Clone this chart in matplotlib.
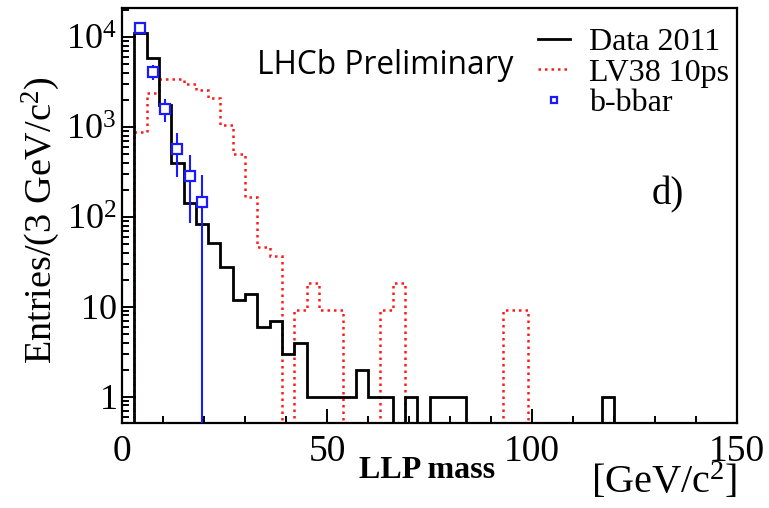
import numpy as np
import matplotlib
matplotlib.use("Agg")
import matplotlib.pyplot as plt
from matplotlib.lines import Line2D
from matplotlib.ticker import FixedLocator, FixedFormatter, LogLocator, MultipleLocator

plt.rcParams["font.family"] = ["Liberation Serif", "DejaVu Serif"]
plt.rcParams["mathtext.fontset"] = "custom"
plt.rcParams["mathtext.rm"] = "Liberation Serif"
plt.rcParams["mathtext.it"] = "Liberation Serif:italic"

# 3 GeV/c^2 bins from 0 to 150
bin_edges = np.arange(0, 153, 3)

# Data 2011 (entries per bin)
data_2011 = [0, 11000, 5800, 1750, 400, 143, 84, 51, 28, 12,
             14, 6, 7, 3, 4, 1, 1, 1, 1, 2,
             1, 1, 0, 1, 0, 1, 1, 1, 0, 0,
             0, 0, 0, 0, 0, 0, 0, 0, 0, 1,
             0, 0, 0, 0, 0, 0, 0, 0, 0, 0]

# LV38 10ps signal MC
lv38_10ps = [0, 880, 2400, 3420, 3420, 2980, 2590, 2080, 1050, 500,
             167, 46, 37, 0, 9.3, 18.6, 9.3, 9.3, 0, 0,
             0, 9.3, 18.6, 0, 0, 0, 0, 0, 0, 0,
             0, 9.3, 9.3, 0, 0, 0, 0, 0, 0, 0,
             0, 0, 0, 0, 0, 0, 0, 0, 0, 0]

# b-bbar MC points
bb_mass = [4.5, 7.5, 10.5, 13.5, 16.5, 19.5]
bb_entries = [12600, 4100, 1590, 570, 285, 147]
bb_err = [1350, 760, 450, 290, 200, 147]

W, H = 769, 508
fig = plt.figure(figsize=(W / 100, H / 100), dpi=100)
ax = fig.add_axes([122 / W, 1 - 423 / H, (737 - 122) / W, (423 - 8) / H])

floor = 1e-2
d = np.array(data_2011, dtype=float)
s = np.array(lv38_10ps, dtype=float)
ax.stairs(np.where(d > 0, d, floor), bin_edges, color="black", lw=2.0, zorder=3)
ax.stairs(np.where(s > 0, s, floor), bin_edges, color="#ff1a1a", lw=1.8,
          linestyle=(0, (1, 1.6)), zorder=2)

y = np.array(bb_entries, dtype=float)
e = np.array(bb_err, dtype=float)
lo = np.minimum(e, y - floor)
ax.errorbar(bb_mass, y, yerr=[lo, e], fmt="s", color="#1a1aff", ms=6.5,
            mfc="white", mec="#1a1aff", mew=1.6, elinewidth=1.5, capsize=0,
            zorder=4)

ax.set_yscale("log")
ax.set_xlim(0, 150)
ax.set_ylim(0.51, 2.1e4)

ax.xaxis.set_major_locator(MultipleLocator(50))
ax.xaxis.set_minor_locator(MultipleLocator(10))
ax.yaxis.set_major_locator(FixedLocator([1, 10, 100, 1000, 10000]))
ax.yaxis.set_major_formatter(FixedFormatter([
    r"$\mathregular{1}\;\,$",
    r"$\mathregular{10}\;\,$",
    r"$\mathregular{10^{2}}$",
    r"$\mathregular{10^{3}}$",
    r"$\mathregular{10^{4}}$",
]))
ax.yaxis.set_minor_locator(LogLocator(base=10, subs=np.arange(2, 10), numticks=20))
ax.yaxis.set_minor_formatter(plt.NullFormatter())

ax.tick_params(which="both", direction="in", top=False, right=False, width=1.4)
ax.tick_params(which="major", length=10)
ax.tick_params(which="minor", length=5)
ax.tick_params(axis="x", labelsize=27, pad=8)
ax.tick_params(axis="y", labelsize=26, pad=4)
for sp in ax.spines.values():
    sp.set_linewidth(1.6)

ax.set_ylabel("Entries/(3 GeV/c$^{2}$)", fontsize=27.5)
ax.yaxis.set_label_coords(-0.097, 0.49)

fig.text(427 / W, 1 - 470 / H, "LLP mass", fontsize=23, fontweight="bold",
         ha="center", va="center")
fig.text(737 / W, 1 - 482 / H, "[GeV/c$^{2}$]", fontsize=29,
         ha="right", va="center")

fig.text(385 / W, 1 - 66 / H, "LHCb Preliminary", fontsize=22.8,
         family=["Open Sans", "DejaVu Sans"], ha="center", va="center")
fig.text(668 / W, 1 - 195 / H, "d)", fontsize=28, ha="center", va="center")

handles = [
    Line2D([], [], color="black", lw=2.0),
    Line2D([], [], color="#ff1a1a", lw=1.8, linestyle=(0, (1, 1.6))),
    Line2D([], [], color="#1a1aff", marker="s", ms=5, mfc="white", mew=1.6, lw=0),
]
ax.legend(handles, ["Data 2011", "LV38 10ps", "b-bbar"],
          loc="upper left", bbox_to_anchor=(538 / W, 1 - 28 / H),
          bbox_transform=fig.transFigure, frameon=False, fontsize=23,
          handlelength=1.0, handletextpad=0.6, labelspacing=0.03,
          borderpad=0, borderaxespad=0)

fig.savefig("out.png", dpi=100)
